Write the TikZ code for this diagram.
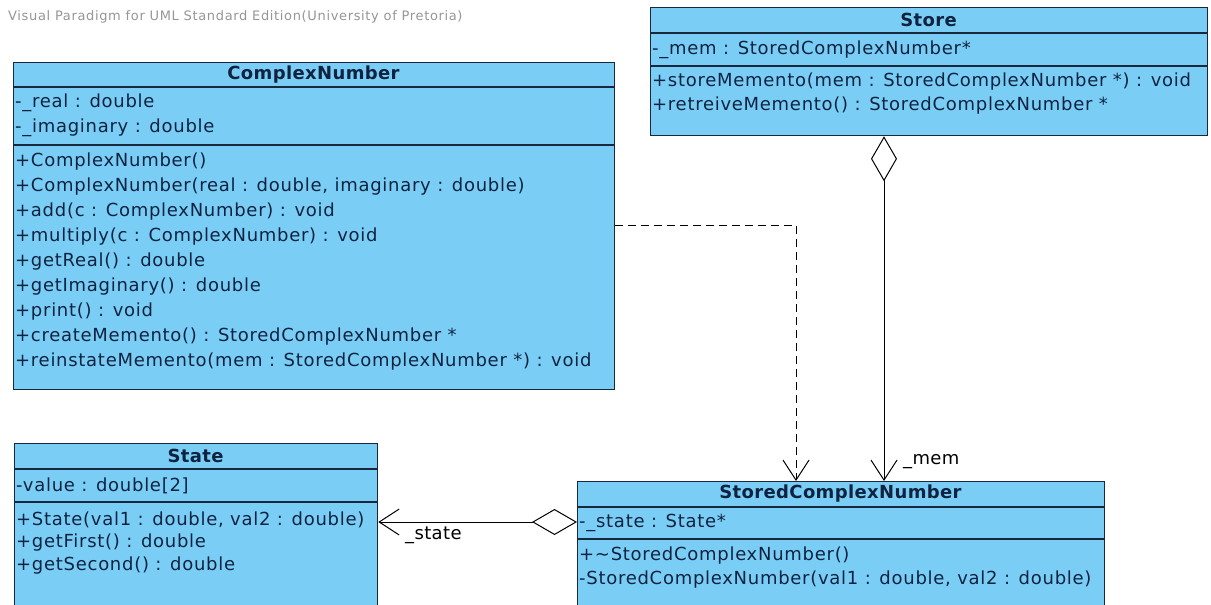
\documentclass[tikz,border=0pt]{standalone}
\usepackage{fontspec}
\setmainfont{DejaVu Sans}
\usetikzlibrary{arrows.meta}
\definecolor{cfill}{RGB}{122,206,245}
\definecolor{cline}{RGB}{25,40,60}
\definecolor{ctext}{RGB}{15,35,65}
\definecolor{wmgray}{RGB}{150,150,150}
\tikzset{
  classbox/.style={draw=cline, fill=cfill, line width=1.3pt, rectangle, inner sep=0pt, anchor=north west},
  divider/.style={draw=cline, line width=1.3pt},
  member/.style={anchor=west, inner sep=0pt, text=ctext, font=\fontsize{18}{20}\selectfont\addfontfeature{LetterSpace=4}},
  ctitle/.style={inner sep=0pt, text=ctext, font=\fontsize{18}{20}\selectfont\bfseries\addfontfeature{LetterSpace=2}},
  rolelabel/.style={anchor=west, inner sep=0pt, text=black, font=\fontsize{18}{20}\selectfont\addfontfeature{LetterSpace=2}},
  conn/.style={draw=black, line width=1pt},
  depend/.style={conn, dash pattern=on 8pt off 5pt, arrows={-Straight Barb[length=20pt,width=26pt,line width=1pt]}},
  aggregation/.style={conn, arrows={Diamond[fill=white,length=45pt,width=26pt,line width=1pt]-Straight Barb[length=20pt,width=26pt,line width=1pt]}}
}
\begin{document}
\begin{tikzpicture}[x=1pt,y=-1pt]
\useasboundingbox (0,0) rectangle (1211,605);
\fill[white] (0,0) rectangle (1211,605);
\clip (0,0) rectangle (1211,605);

% watermark
\node[anchor=west, inner sep=0pt, text=wmgray, font=\fontsize{13}{15}\selectfont\addfontfeature{LetterSpace=5}] (wm) at (8,17) {Visual Paradigm for UML Standard Edition(University of Pretoria)};

% ComplexNumber
\node[classbox, minimum width=601pt, minimum height=327pt] (cn) at (13,62) {};
\draw[divider] (13,87) -- (614,87);
\draw[divider] (13,145) -- (614,145);
\node[ctitle] (cnT) at (313.5,74.5) {ComplexNumber};
\node[member] (cnA1) at (15,103) {-\_real : double};
\node[member] (cnA2) at (15,128) {-\_imaginary : double};
\node[member] (cnM1) at (15,162) {+ComplexNumber()};
\node[member] (cnM2) at (15,187) {+ComplexNumber(real : double, imaginary : double)};
\node[member] (cnM3) at (15,212) {+add(c : ComplexNumber) : void};
\node[member] (cnM4) at (15,237) {+multiply(c : ComplexNumber) : void};
\node[member] (cnM5) at (15,262) {+getReal() : double};
\node[member] (cnM6) at (15,287) {+getImaginary() : double};
\node[member] (cnM7) at (15,312) {+print() : void};
\node[member] (cnM8) at (15,337) {+createMemento() : StoredComplexNumber *};
\node[member] (cnM9) at (15,362) {+reinstateMemento(mem : StoredComplexNumber *) : void};

% Store
\node[classbox, minimum width=557pt, minimum height=128pt] (store) at (650,7) {};
\draw[divider] (650,33) -- (1207,33);
\draw[divider] (650,66) -- (1207,66);
\node[ctitle] (stT) at (928.5,20) {Store};
\node[member] (stA1) at (652,50) {-\_mem : StoredComplexNumber*};
\node[member] (stM1) at (652,82) {+storeMemento(mem : StoredComplexNumber *) : void};
\node[member] (stM2) at (652,106) {+retreiveMemento() : StoredComplexNumber *};

% State
\node[classbox, minimum width=363pt, minimum height=200pt] (state) at (14,443) {};
\draw[divider] (14,469) -- (377,469);
\draw[divider] (14,502) -- (377,502);
\node[ctitle] (sT) at (195.5,456) {State};
\node[member] (sA1) at (16,486) {-value : double[2]};
\node[member] (sM1) at (16,520) {+State(val1 : double, val2 : double)};
\node[member] (sM2) at (16,543) {+getFirst() : double};
\node[member] (sM3) at (16,566) {+getSecond() : double};

% StoredComplexNumber
\node[classbox, minimum width=527pt, minimum height=200pt] (scn) at (577,481) {};
\draw[divider] (577,507) -- (1104,507);
\draw[divider] (577,539) -- (1104,539);
\node[ctitle] (scnT) at (840.5,494) {StoredComplexNumber};
\node[member] (scnA1) at (579,523) {-\_state : State*};
\node[member] (scnM1) at (579,556) {+\textasciitilde StoredComplexNumber()};
\node[member] (scnM2) at (579,580) {-StoredComplexNumber(val1 : double, val2 : double)};

% connectors
\coordinate (depY) at (0,225);
\coordinate (depX) at (796,0);
\coordinate (memX) at (884,0);
\coordinate (stY) at (0,522);
\draw[depend] (cn.east |- depY) -- (depX |- depY) -- (depX |- scn.north);
\draw[aggregation] (memX |- store.south) -- (memX |- scn.north);
\draw[aggregation] (scn.west |- stY) -- (state.east |- stY);
\node[rolelabel] (memL) at (903,462) {\_mem};
\node[rolelabel] (stateL) at (405,535) {\_state};
\end{tikzpicture}
\end{document}
